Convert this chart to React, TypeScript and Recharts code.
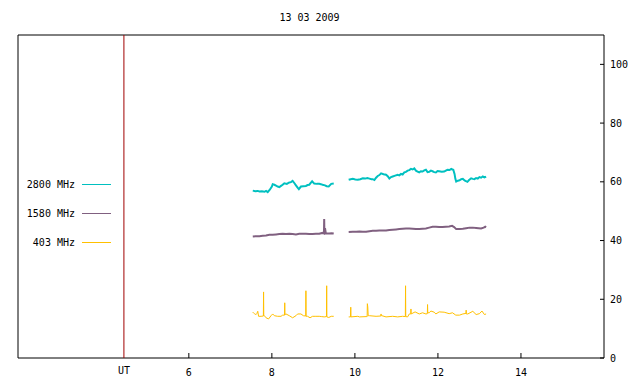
import React from 'react';
import { LineChart, Line, XAxis, YAxis, ReferenceLine, ReferenceArea } from 'recharts';

const FONT = '"DejaVu Sans Mono", monospace';

const title = '13 03 2009';
const xDomain = [1.885, 16];
const utPos = 4.436;
const xTicks = [4.436, 6, 8, 10, 12, 14];
const xTickLabels = ['UT', '6', '8', '10', '12', '14'];
const yTicks = [0, 20, 40, 60, 80, 100];
const yDomain = [0, 110];

const seriesNames = ['2800 MHz', '1580 MHz', '403 MHz'];
const seriesColors = ['#00c0c0', '#806080', '#ffc000'];

const s2800Time = [
  7.54, 7.6, 7.66, 7.7, 7.76, 7.82, 7.86, 7.9, 7.95, 8.0, 8.02, 8.06, 8.1, 8.14, 8.18, 8.22, 8.26, 8.3, 8.36, 8.42,
  8.46, 8.5, 8.54, 8.58, 8.62, 8.65, 8.7, 8.76, 8.82, 8.86, 8.9, 8.97, 9.02, 9.08, 9.14, 9.18, 9.22, 9.28, 9.32, 9.37,
  9.43, 9.49, 9.67,
  9.85, 9.9, 9.95, 10.01, 10.07, 10.13, 10.19, 10.25, 10.3, 10.35, 10.4, 10.43, 10.47, 10.51, 10.55, 10.59, 10.63,
  10.69, 10.75, 10.79, 10.83, 10.87, 10.91, 10.97, 11.03, 11.07, 11.11, 11.15, 11.19, 11.23, 11.27, 11.31, 11.35,
  11.39, 11.43, 11.47, 11.51, 11.55, 11.59, 11.63, 11.67, 11.71, 11.75, 11.79, 11.83, 11.87, 11.91, 11.95, 11.99,
  12.03, 12.09, 12.15, 12.19, 12.23, 12.28, 12.32, 12.35, 12.37, 12.4, 12.42, 12.44, 12.48, 12.52, 12.56, 12.6,
  12.65, 12.71, 12.75, 12.8, 12.84, 12.88, 12.92, 12.96, 13.0, 13.04, 13.08, 13.12, 13.16,
];
const s2800Value = [
  57.0, 56.8, 56.9, 56.7, 56.8, 56.6, 56.9, 56.5, 57.3, 58.4, 59.2, 59.0, 58.7, 58.4, 58.2, 58.6, 59.0, 59.5, 59.3, 59.8,
  59.9, 60.3, 59.6, 58.8, 58.0, 57.5, 58.4, 58.5, 58.6, 58.9, 59.0, 60.2, 59.4, 59.3, 59.3, 59.2, 59.0, 58.8, 58.5, 58.4,
  59.3, 59.4, null,
  60.7, 60.9, 61.0, 60.8, 60.7, 60.9, 61.2, 61.1, 61.3, 61.1, 60.9, 60.9, 60.6, 61.4, 62.0, 62.3, 62.9,
  62.6, 62.4, 61.9, 61.1, 61.6, 61.8, 62.1, 62.4, 62.2, 62.7, 62.5, 63.2, 63.4, 63.8, 64.0, 64.4,
  64.2, 64.6, 63.8, 63.5, 63.2, 63.6, 63.5, 63.9, 64.1, 63.3, 63.4, 63.8, 63.6, 63.3, 63.2, 63.7,
  63.6, 63.4, 63.5, 63.8, 64.1, 64.0, 64.4, 64.2, 64.1, 62.7, 61.0, 60.1, 60.4, 60.5, 60.9, 61.0,
  60.4, 60.0, 60.6, 61.2, 61.0, 60.9, 61.3, 61.1, 61.6, 61.4, 61.8, 61.5, 61.8,
];

const s1580Time = [
  7.54, 7.62, 7.7, 7.78, 7.86, 7.94, 8.02, 8.1, 8.18, 8.26, 8.34, 8.42, 8.5, 8.58, 8.66, 8.74, 8.82, 8.9, 8.98, 9.06,
  9.14, 9.22, 9.255, 9.26, 9.265, 9.28, 9.3, 9.38, 9.44, 9.49, 9.67,
  9.85, 9.95, 10.03, 10.11, 10.19, 10.27, 10.35, 10.43, 10.51, 10.59, 10.67, 10.75, 10.83, 10.91, 10.99, 11.07,
  11.15, 11.23, 11.31, 11.39, 11.47, 11.55, 11.63, 11.71, 11.79, 11.87, 11.95, 12.03, 12.11, 12.19, 12.27, 12.34,
  12.39, 12.44, 12.52, 12.6, 12.68, 12.76, 12.84, 12.92, 12.98, 13.04, 13.1, 13.14, 13.16,
];
const s1580Value = [
  41.4, 41.5, 41.5, 41.6, 41.7, 42.0, 42.0, 42.1, 42.2, 42.3, 42.2, 42.3, 42.2, 42.1, 42.3, 42.3, 42.3, 42.2, 42.2, 42.3,
  42.3, 42.6, 42.4, 47.3, 43.0, 44.2, 42.4, 42.4, 42.5, 42.4, null,
  42.9, 43.0, 43.0, 43.1, 43.0, 43.0, 43.2, 43.3, 43.3, 43.4, 43.4, 43.4, 43.6, 43.7, 43.8, 43.9,
  44.0, 44.1, 44.1, 44.0, 43.9, 43.9, 44.0, 44.1, 44.4, 44.7, 44.7, 44.6, 44.6, 44.7, 44.8, 45.0,
  44.6, 43.9, 43.9, 44.0, 44.2, 44.4, 44.4, 44.3, 44.2, 44.1, 44.4, 44.7, 44.5,
];

const s403Time = [
  7.54, 7.56, 7.58, 7.6, 7.62, 7.64, 7.66, 7.68, 7.74, 7.795, 7.8, 7.805, 7.82, 7.86, 7.92, 7.98, 8.02, 8.06, 8.14,
  8.22, 8.26, 8.305, 8.31, 8.315, 8.34, 8.42, 8.5, 8.58, 8.62, 8.7, 8.76, 8.815, 8.82, 8.825, 8.86, 8.92, 8.98, 9.06,
  9.14, 9.2, 9.26, 9.315, 9.32, 9.325, 9.37, 9.43, 9.49, 9.67,
  9.85, 9.895, 9.9, 9.905, 10.07, 10.11, 10.27, 10.295, 10.3, 10.31, 10.32, 10.35, 10.51, 10.625, 10.63, 10.635,
  10.65, 10.75, 10.91, 11.03, 11.15, 11.215, 11.22, 11.225, 11.27, 11.31, 11.345, 11.35, 11.355, 11.45, 11.55,
  11.63, 11.71, 11.745, 11.75, 11.755, 11.79, 11.83, 11.91, 11.95, 12.03, 12.15, 12.27, 12.35, 12.43, 12.52, 12.6,
  12.675, 12.68, 12.685, 12.72, 12.84, 12.92, 13.0, 13.06, 13.12, 13.16,
];
const s403Value = [
  15.6, 15.3, 15.1, 14.9, 14.8, 15.2, 15.9, 14.2, 14.2, 14.3, 22.5, 14.4, 14.4, 13.7, 13.3, 14.4, 15.0, 14.4, 14.2,
  14.2, 14.6, 14.6, 18.8, 14.8, 15.0, 14.4, 13.7, 14.4, 15.0, 15.0, 14.4, 14.3, 22.9, 14.2, 14.2, 13.7, 14.2, 14.2,
  14.2, 14.1, 14.0, 14.1, 24.6, 14.0, 13.8, 14.2, 14.2, null,
  14.0, 14.0, 17.3, 14.0, 14.2, 14.0, 14.1, 14.1, 18.5, 17.4, 14.4, 14.4, 14.2, 14.3, 15.0, 14.4,
  14.4, 14.0, 14.2, 14.0, 14.2, 14.1, 24.6, 14.1, 14.0, 15.0, 15.0, 16.7, 15.0, 15.7, 15.0,
  15.4, 15.0, 15.1, 18.2, 15.4, 15.4, 16.0, 15.6, 15.0, 15.7, 15.6, 15.1, 15.4, 14.6, 14.6, 15.0,
  15.2, 16.3, 15.0, 15.0, 15.9, 14.8, 15.1, 16.0, 14.8, 15.0,
];

const toData = (ts: number[], vs: (number | null)[]) => ts.map((t, i) => ({ t, v: vs[i] }));
const data2800 = toData(s2800Time, s2800Value);
const data1580 = toData(s1580Time, s1580Value);
const data403 = toData(s403Time, s403Value);

const tickLabel = (v: number) => {
  const i = xTicks.indexOf(v);
  return i >= 0 ? xTickLabels[i] : String(v);
};

const BottomTick = (props: any) => {
  const { x, y, payload } = props;
  const label = tickLabel(payload.value);
  const isUT = label === 'UT';
  return (
    <g>
      {!isUT && <line x1={x} x2={x} y1={y} y2={y - 5} stroke="#000" />}
      <text x={x} y={y + (isUT ? 16 : 18)} textAnchor="middle" fontSize={10} fontFamily={FONT} fill="#000">
        {label}
      </text>
    </g>
  );
};

const TopTick = (props: any) => {
  const { x, y, payload } = props;
  if (tickLabel(payload.value) === 'UT') return <g />;
  return <line x1={x} x2={x} y1={y} y2={y + 5} stroke="#000" />;
};

const RightTick = (props: any) => {
  const { x, y, payload } = props;
  return (
    <g>
      <line x1={x} x2={x - 4} y1={y} y2={y} stroke="#000" />
      <text x={x + 6} y={y + 3.5} textAnchor="start" fontSize={10} fontFamily={FONT} fill="#000">
        {payload.value}
      </text>
    </g>
  );
};

const LegendOverlay = () => (
  <svg width={120} height={90} style={{ position: 'absolute', left: 0, top: 170, display: 'block' }}>
    {seriesNames.map((n, i) => (
      <g key={n}>
        <text x={75} y={14 + i * 29 + 3.5} textAnchor="end" fontSize={10} fontFamily={FONT} fill="#000">
          {n}
        </text>
        <line x1={82} x2={111} y1={14.5 + i * 29} y2={14.5 + i * 29} stroke={seriesColors[i]} strokeWidth={1} />
      </g>
    ))}
  </svg>
);

export default function App() {
  return (
    <div style={{ position: 'absolute', left: 0, top: 0, width: 640, height: 384, background: '#fff' }}>
      <div
        style={{
          position: 'absolute',
          left: 0,
          top: 12,
          width: 619,
          textAlign: 'center',
          fontFamily: FONT,
          fontSize: 10,
          lineHeight: '12px',
          color: '#000',
        }}
      >
        {title}
      </div>
      <LineChart width={640} height={384} margin={{ top: 35, right: 0, left: 18, bottom: 0 }}>
        <XAxis
          dataKey="t"
          type="number"
          domain={xDomain}
          ticks={xTicks}
          allowDataOverflow
          height={26}
          tickSize={0}
          tickMargin={0}
          tickLine={false}
          axisLine={false}
          tick={<BottomTick />}
          interval={0}
        />
        <XAxis
          xAxisId="top"
          orientation="top"
          dataKey="t"
          type="number"
          domain={xDomain}
          ticks={xTicks}
          allowDataOverflow
          height={0}
          tickSize={0}
          tickMargin={0}
          tickLine={false}
          axisLine={false}
          tick={<TopTick />}
          interval={0}
        />
        <YAxis
          orientation="right"
          type="number"
          domain={yDomain}
          ticks={yTicks}
          width={36}
          tickSize={0}
          tickMargin={0}
          tickLine={false}
          axisLine={false}
          tick={<RightTick />}
          interval={0}
        />
        <ReferenceArea x1={xDomain[0]} x2={xDomain[1]} y1={yDomain[0]} y2={yDomain[1]} fill="none" stroke="#000" strokeWidth={1} fillOpacity={0} />
        <ReferenceLine x={utPos} stroke="#a00000" strokeWidth={1} />
        <Line data={data2800} dataKey="v" name={seriesNames[0]} stroke={seriesColors[0]} strokeWidth={2} dot={false} isAnimationActive={false} connectNulls={false} />
        <Line data={data1580} dataKey="v" name={seriesNames[1]} stroke={seriesColors[1]} strokeWidth={2} dot={false} isAnimationActive={false} connectNulls={false} />
        <Line data={data403} dataKey="v" name={seriesNames[2]} stroke={seriesColors[2]} strokeWidth={1} dot={false} isAnimationActive={false} connectNulls={false} />
      </LineChart>
      <LegendOverlay />
    </div>
  );
}
